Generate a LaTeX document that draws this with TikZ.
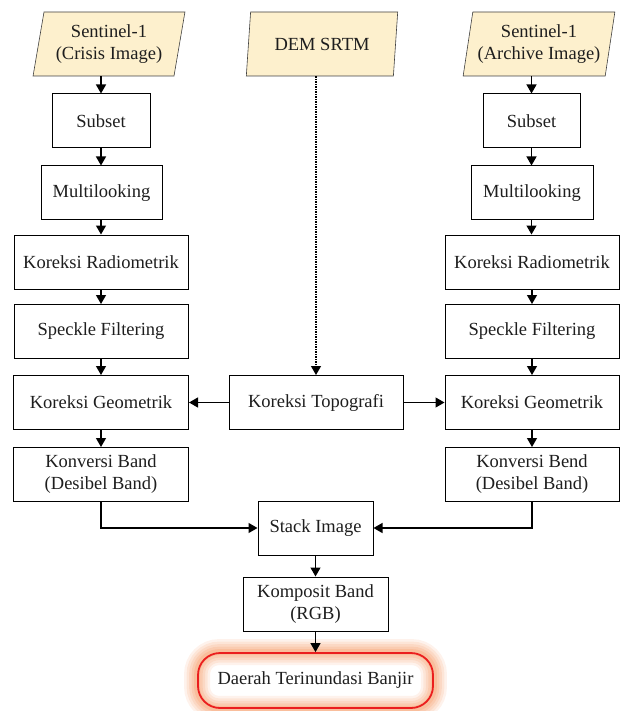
\documentclass[tikz,border=0pt]{standalone}
\usepackage{fontspec}
\setmainfont{Liberation Serif}
\usetikzlibrary{shapes.geometric,arrows.meta,backgrounds}
\definecolor{inputfill}{RGB}{253,240,205}
\definecolor{txt}{RGB}{30,30,30}
\definecolor{glowc}{RGB}{245,150,95}
\definecolor{finred}{RGB}{235,30,30}
\tikzset{
  basefont/.style={font=\fontsize{18.5}{22}\selectfont, text=txt},
  procbox/.style={basefont, draw=black, line width=1pt, fill=white, minimum height=54pt, inner sep=0pt, align=center},
  inputbox/.style={basefont, trapezium, trapezium left angle=77, trapezium right angle=103, trapezium stretches=true,
     minimum width=152pt, minimum height=64pt, inner sep=0pt, draw=black!75, line width=0.6pt, fill=inputfill, align=center},
  arr/.style={-{Triangle[length=9pt,width=10pt]}, line width=1.2pt},
  dotarr/.style={arr, dash pattern=on 1.5pt off 1pt},
  finbox/.style={basefont, draw=finred, line width=1.8pt, rounded corners=22pt, minimum width=235pt, minimum height=55pt, inner sep=0pt}
}
\begin{document}
\begin{tikzpicture}[x=1pt,y=-1pt]
\useasboundingbox (0,0) rectangle (622,711);
% left column
\node[inputbox] (inL) at (109,44) {Sentinel-1\\(Crisis Image)};
\node[procbox, minimum width=98pt] (subL) at (101,121) {Subset};
\node[procbox, minimum width=121pt] (mulL) at (101.5,193) {Multilooking};
\node[procbox, minimum width=174pt] (radL) at (101,262) {Koreksi Radiometrik};
\node[procbox, minimum width=174pt] (spkL) at (101,331.5) {Speckle Filtering};
\node[procbox, minimum width=175pt] (geoL) at (101,402.5) {Koreksi Geometrik};
\node[procbox, minimum width=175pt] (konL) at (101,474.5) {Konversi Band\\(Desibel Band)};
% center column
\node[inputbox] (dem) at (322,44) {DEM SRTM};
\node[procbox, minimum width=174pt] (topo) at (316,402.5) {Koreksi Topografi};
\node[procbox, minimum width=115pt] (stack) at (315.5,528) {Stack Image};
\node[procbox, minimum width=145pt] (komp) at (315.5,604) {Komposit Band\\(RGB)};
\node[finbox] (fin) at (315.5,680.5) {Daerah Terinundasi Banjir};
% right column
\node[inputbox] (inR) at (539,44) {Sentinel-1\\(Archive Image)};
\node[procbox, minimum width=97pt] (subR) at (531.5,121) {Subset};
\node[procbox, minimum width=122pt] (mulR) at (532,193) {Multilooking};
\node[procbox, minimum width=174pt] (radR) at (532,262) {Koreksi Radiometrik};
\node[procbox, minimum width=174pt] (spkR) at (532,331.5) {Speckle Filtering};
\node[procbox, minimum width=174pt] (geoR) at (532,402.5) {Koreksi Geometrik};
\node[procbox, minimum width=174pt] (konR) at (532,474.5) {Konversi Bend\\(Desibel Band)};
% glow
\begin{scope}[on background layer]
  \foreach \w/\o in {26/0.12,21/0.14,16/0.16,11/0.2,6/0.25}{
    \draw[glowc, line width=\w pt, opacity=\o, rounded corners=22pt] (fin.north west) rectangle (fin.south east);
  }
\end{scope}
% connectors left
\draw[arr] (inL.south -| subL.north) -- (subL.north);
\draw[arr] (subL) -- (mulL.north -| subL.south);
\draw[arr] (mulL.south -| subL.south) -- (radL.north -| subL.south);
\draw[arr] (radL) -- (spkL);
\draw[arr] (spkL) -- (geoL);
\draw[arr] (geoL) -- (konL);
\draw[arr] (konL.south) |- (stack.west);
% connectors right
\draw[arr] (inR.south -| subR.north) -- (subR.north);
\draw[arr] (subR) -- (mulR.north -| subR.south);
\draw[arr] (mulR.south -| subR.south) -- (radR.north -| subR.south);
\draw[arr] (radR) -- (spkR);
\draw[arr] (spkR) -- (geoR);
\draw[arr] (geoR) -- (konR);
\draw[arr] (konR.south) |- (stack.east);
% center
\draw[dotarr] (dem.south -| topo.north) -- (topo.north);
\draw[arr] (topo) -- (geoL);
\draw[arr] (topo) -- (geoR);
\draw[arr] (stack) -- (komp);
\draw[arr] (komp) -- (fin);
\end{tikzpicture}
\end{document}
